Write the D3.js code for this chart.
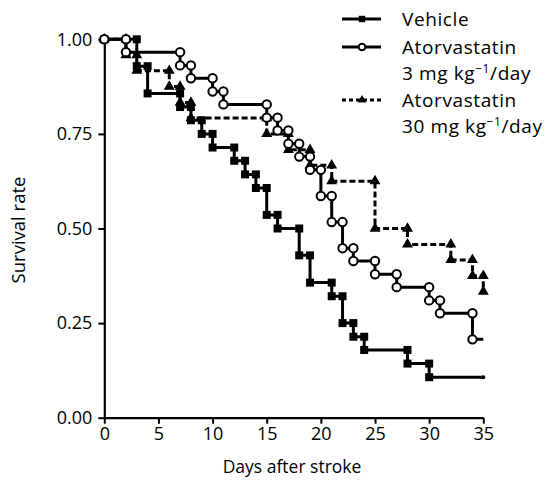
<!DOCTYPE html>
<html>
<head>
<meta charset="utf-8">
<script src="https://cdn.jsdelivr.net/npm/d3@7"></script>
<style>
  html, body { margin: 0; padding: 0; background: #fff; }
  svg { display: block; }
  text { font-family: "Open Sans", "Noto Sans", sans-serif; fill: #000; }
</style>
</head>
<body>
<svg id="chart" width="553" height="484"></svg>
<script>
// ---- data ----
const xTicks = [0, 5, 10, 15, 20, 25, 30, 35];
const yTicks = [0, 0.25, 0.5, 0.75, 1.0];
const endDay = 35;

const vehicleDays = [3, 4, 7, 8, 9, 10, 12, 13, 14, 15, 16, 18, 19, 21, 22, 23, 24, 28, 30];
const vehicleSurv = [0.929, 0.857, 0.821, 0.786, 0.75, 0.714, 0.679, 0.643, 0.607, 0.536, 0.5, 0.429, 0.357, 0.321, 0.25, 0.214, 0.179, 0.143, 0.107];

const ator3Days = [2, 7, 8, 10, 11, 15, 16, 17, 18, 19, 20, 21, 22, 23, 25, 27, 30, 31, 34];
const ator3Surv = [0.966, 0.931, 0.897, 0.862, 0.828, 0.793, 0.759, 0.724, 0.690, 0.655, 0.586, 0.517, 0.448, 0.414, 0.379, 0.345, 0.310, 0.276, 0.207];

const ator30Days = [2, 3, 6, 7, 8, 15, 17, 19, 21, 25, 28, 32, 34, 35];
const ator30Surv = [0.958, 0.917, 0.875, 0.833, 0.792, 0.75, 0.708, 0.667, 0.625, 0.5, 0.458, 0.417, 0.375, 0.333];

const seriesNames = ["Vehicle", "Atorvastatin", "Atorvastatin"];
const seriesSub = [null, "3 mg kg", "30 mg kg"];

// ---- layout ----
const svg = d3.select("#chart");
const x = d3.scaleLinear().domain([0, 35]).range([104.3, 483.3]);
const y = d3.scaleLinear().domain([0, 1]).range([417.7, 39.3]);

// axes
const fs = 18;
const yAxis = g => g.attr("transform", `translate(${x(0)},0)`)
  .call(d3.axisLeft(y).tickValues(yTicks).tickFormat(d3.format(".2f")).tickSize(6).tickSizeOuter(0))
  .call(g => g.select(".domain").attr("stroke-width", 2.2))
  .call(g => g.selectAll(".tick line").attr("stroke-width", 2))
  .call(g => g.selectAll(".tick text").attr("font-size", fs).attr("x", -12).attr("font-family", null));
const xAxis = g => g.attr("transform", `translate(0,${y(0)})`)
  .call(d3.axisBottom(x).tickValues(xTicks).tickFormat(d3.format("d")).tickSize(6).tickSizeOuter(0))
  .call(g => g.select(".domain").attr("stroke-width", 2.2))
  .call(g => g.selectAll(".tick line").attr("stroke-width", 2))
  .call(g => g.selectAll(".tick text").attr("font-size", fs).attr("y", 10).attr("font-family", null));
svg.append("g").call(yAxis);
svg.append("g").call(xAxis);

svg.append("text").attr("x", 292).attr("y", 473).attr("text-anchor", "middle")
  .attr("font-size", 17.5).text("Days after stroke");
svg.append("text").attr("transform", `translate(25,${230}) rotate(-90)`).attr("text-anchor", "middle")
  .attr("font-size", 18.5).text("Survival rate");

// ---- series ----
function stepPoints(days, surv) {
  const pts = [[0, 1]];
  let prev = 1;
  days.forEach((d, i) => { pts.push([d, prev]); pts.push([d, surv[i]]); prev = surv[i]; });
  if (days[days.length - 1] < endDay) pts.push([endDay, prev]);
  return pts;
}
function markerPoints(days, surv) {
  const pts = [[0, 1]];
  let prev = 1;
  days.forEach((d, i) => { pts.push([d, prev]); pts.push([d, surv[i]]); prev = surv[i]; });
  return pts;
}
const line = d3.line().x(d => x(d[0])).y(d => y(d[1]));

const series = [
  { days: vehicleDays, surv: vehicleSurv, dash: null, marker: "square" },
  { days: ator30Days, surv: ator30Surv, dash: "6,3", marker: "triangle" },
  { days: ator3Days, surv: ator3Surv, dash: null, marker: "circle" }
];

series.forEach(s => {
  svg.append("path").attr("d", line(stepPoints(s.days, s.surv)))
    .attr("fill", "none").attr("stroke", "#000").attr("stroke-width", 3)
    .attr("stroke-dasharray", s.dash);
});

function drawMarker(g, type, cx, cy, scale) {
  scale = scale || 1;
  if (type === "circle") {
    g.append("circle").attr("cx", cx).attr("cy", cy).attr("r", 4.2 * scale)
      .attr("fill", "#fff").attr("stroke", "#000").attr("stroke-width", 2);
  } else if (type === "square") {
    g.append("path").attr("d", d3.symbol().type(d3.symbolSquare).size(64 * scale * scale)())
      .attr("transform", `translate(${cx},${cy})`).attr("fill", "#000");
  } else {
    g.append("path").attr("d", d3.symbol().type(d3.symbolTriangle).size(52 * scale * scale)())
      .attr("transform", `translate(${cx},${cy})`).attr("fill", "#000");
  }
}
series.forEach(s => {
  const g = svg.append("g");
  markerPoints(s.days, s.surv).forEach(p => drawMarker(g, s.marker, x(p[0]), y(p[1])));
});
// small end mark of the vehicle curve
svg.append("circle").attr("cx", x(endDay)).attr("cy", y(vehicleSurv[vehicleSurv.length - 1]))
  .attr("r", 2).attr("fill", "#000");

// ---- legend ----
const lfs = 19;
const legend = svg.append("g");
const legItems = [
  { marker: "square", dash: null, ly: 19, base: 26, name: seriesNames[0], sub: seriesSub[0] },
  { marker: "circle", dash: null, ly: 47, base: 54, name: seriesNames[1], sub: seriesSub[1] },
  { marker: "triangle", dash: "4,3", ly: 100, base: 107, name: seriesNames[2], sub: seriesSub[2] }
];
legItems.forEach(it => {
  legend.append("line").attr("x1", 342).attr("x2", 381).attr("y1", it.ly).attr("y2", it.ly)
    .attr("stroke", "#000").attr("stroke-width", 3).attr("stroke-dasharray", it.dash);
  drawMarker(legend, it.marker, 362, it.ly, 0.8);
  const t = legend.append("text").attr("x", 402).attr("y", it.base).attr("font-size", lfs)
    .attr("letter-spacing", 0.6);
  t.append("tspan").text(it.name);
  if (it.sub) {
    t.append("tspan").attr("x", 402).attr("dy", 26).text(it.sub);
    t.append("tspan").attr("font-size", 12).attr("dy", -7).text("\u22121");
    t.append("tspan").attr("dy", 7).text("/day");
  }
});
</script>
</body>
</html>
